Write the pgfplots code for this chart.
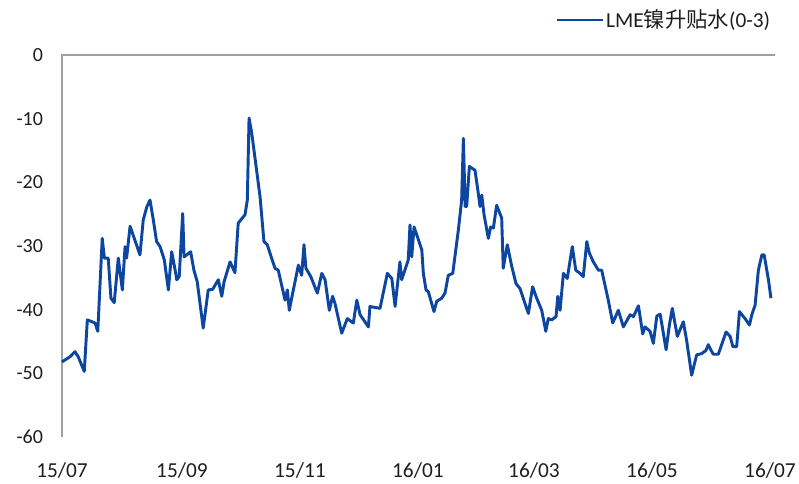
\documentclass[border=0pt]{standalone}
\usepackage{fontspec}
\setmainfont{Carlito}
\newfontfamily\cjk{Noto Sans CJK SC}
\usepackage{pgfplots}
\pgfplotsset{compat=1.18}
\definecolor{serie}{RGB}{12,70,160}
\definecolor{axgray}{RGB}{160,160,160}
\definecolor{txt}{RGB}{30,30,30}
\begin{document}
\begin{tikzpicture}
\useasboundingbox (0,0) rectangle (599.25pt,363pt);
\begin{axis}[
  at={(46.5pt,35.25pt)}, anchor=south west,
  scale only axis, width=534.75pt, height=286.5pt,
  xmin=0, xmax=368.6, ymin=-60, ymax=0,
  xtick={0,62,123,184,244,305,366},
  xticklabels={15/07,15/09,15/11,16/01,16/03,16/05,16/07},
  ytick={-60,-50,-40,-30,-20,-10,0},
  axis line style={draw=none},
  major tick length=0pt,
  /pgf/number format/assume math mode=true,
  xticklabel style={font=\fontsize{16}{18}\selectfont, text=txt, yshift=-15.5pt},
  yticklabel style={font=\fontsize{15}{17}\selectfont, text=txt, xshift=-10.7pt},
  legend style={at={(0.9955,1.0916)}, anchor=east, draw=none, fill=none,
    font=\fontsize{16}{18}\selectfont, text=txt, inner sep=0pt,
    nodes={inner xsep=1pt}},
  legend image code/.code={\draw[#1, line width=2.2pt] (0pt,0pt) -- (35pt,0pt);},
  clip=false,
]
\draw[axgray, line width=0.8pt] (rel axis cs:0,0) -- (rel axis cs:0,1) -- (rel axis cs:1,1);
\addplot[serie, line width=2.2pt, line join=round] coordinates {
(0,-48.2) (4.1,-47.4) (6.7,-46.6) (8.4,-47.4) (11.5,-49.7) (13.1,-41.6) (17.1,-42.1) (18.5,-43.4)
(20.8,-28.8) (21.9,-31.9) (23.9,-31.9) (25.3,-38.2) (27.0,-38.9) (29.1,-31.9) (31.2,-36.9) (32.6,-30.1)
(33.4,-31.9) (35.2,-26.9) (37.7,-29.1) (40.3,-31.4) (42.0,-25.9) (43.9,-23.8) (45.5,-22.8) (47.2,-25.9)
(48.9,-29.3) (50.7,-30.1) (52.9,-32.2) (55.0,-36.9) (56.7,-30.9) (58.8,-34.3) (59.3,-35.3) (60.6,-34.8)
(62.4,-24.9) (63.1,-31.7) (64.5,-31.4) (66.5,-30.9) (68.2,-33.8) (69.9,-35.6) (73.0,-42.9) (75.6,-36.9)
(77.9,-36.8) (80.8,-35.3) (82.6,-37.9) (83.8,-35.6) (86.9,-32.5) (89.4,-34.2) (91.1,-26.4) (94.6,-25.1)
(95.8,-22.8) (96.7,-9.9) (98.1,-12.3) (102.4,-22.3) (104.4,-29.3) (106.1,-29.8) (110.1,-33.5) (111.8,-33.8)
(115.3,-38.5) (116.5,-36.9) (117.5,-40.1) (119.6,-36.9) (122.2,-33.0) (123.9,-34.6) (125.1,-29.8) (126.1,-33.5)
(128.6,-34.8) (132.0,-37.4) (134.3,-34.3) (136.0,-35.3) (138.2,-40.1) (139.9,-37.9) (141.1,-39.0) (144.6,-43.7)
(147.5,-41.4) (150.6,-42.1) (152.4,-38.5) (154.1,-40.8) (158.4,-42.7) (159.2,-39.5) (164.4,-39.8) (168.2,-34.3)
(170.5,-35.1) (172.2,-39.5) (174.7,-32.5) (175.6,-35.3) (179.0,-32.2) (179.9,-26.7) (180.8,-31.7) (182.0,-27.0)
(186.0,-30.6) (186.8,-34.3) (188.2,-36.9) (189.4,-37.2) (192.3,-40.3) (193.7,-38.7) (196.3,-38.2) (198.0,-37.4)
(199.7,-34.6) (202.0,-34.3) (204.9,-27.5) (206.6,-22.8) (207.5,-13.1) (208.4,-23.8) (209.2,-23.8) (210.6,-17.5)
(213.5,-18.1) (215.2,-21.7) (216.1,-23.8) (217.0,-22.0) (218.2,-25.1) (220.4,-28.8) (221.6,-27.0) (223.0,-27.2)
(224.7,-23.6) (227.3,-25.6) (228.1,-33.5) (230.2,-29.8) (232.5,-33.2) (234.7,-35.9) (236.8,-36.7) (241.1,-40.6)
(243.3,-36.4) (245.4,-38.2) (248.0,-40.1) (250.1,-43.4) (251.4,-41.4) (253.2,-41.6) (255.4,-41.1) (256.3,-37.9)
(257.5,-40.1) (259.2,-34.3) (261.2,-35.1) (263.8,-30.1) (265.6,-33.8) (267.8,-34.3) (269.5,-34.8) (271.3,-29.3)
(272.6,-31.1) (274.7,-32.5) (277.3,-33.8) (279.0,-33.8) (282.4,-38.5) (284.7,-42.1) (287.6,-40.1) (290.2,-42.7)
(293.7,-40.8) (295.4,-41.1) (298.0,-39.4) (300.2,-43.8) (301.4,-42.7) (304.0,-43.4) (305.7,-45.3) (307.5,-41.0)
(309.2,-40.7) (310.0,-42.1) (312.3,-46.3) (314.0,-42.4) (315.5,-39.8) (318.1,-44.2) (321.2,-41.9) (322.9,-44.8)
(325.5,-50.3) (328.1,-47.1) (330.7,-46.9) (332.9,-46.4) (334.1,-45.5) (335.4,-46.3) (336.7,-47.0) (339.3,-47.0)
(343.3,-43.5) (345.4,-44.2) (346.8,-45.8) (348.8,-45.8) (350.2,-40.3) (353.1,-41.4) (355.4,-42.4) (356.6,-40.8)
(358.3,-39.3) (360.0,-33.8) (361.8,-31.4) (363.0,-31.4) (365.2,-35.3) (366.5,-38.2)
};
\addlegendentry{LME{\cjk 镍升贴水}(0-3)}
\end{axis}
\end{tikzpicture}
\end{document}
